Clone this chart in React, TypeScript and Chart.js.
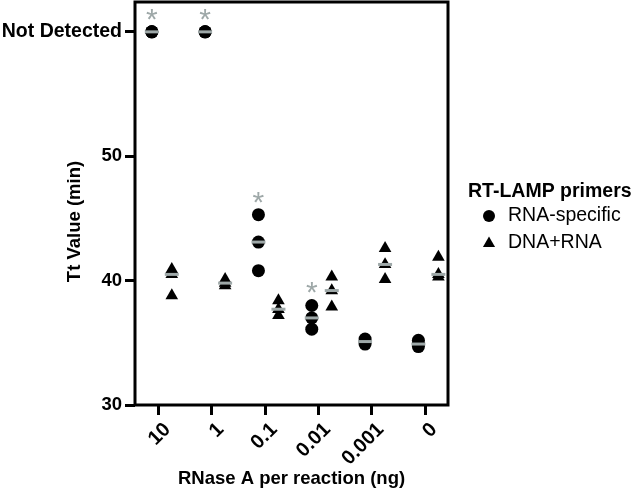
import React, { useEffect, useRef } from 'react';
import { Chart, registerables } from 'chart.js';

Chart.register(...registerables);

// ---------- data ----------
const categories = ['10', '1', '0.1', '0.01', '0.001', '0'];
const ND = 60; // "Not Detected" plotted value
const yTickValues = [30, 40, 50, 60];
const yTickLabels = ['30', '40', '50', 'Not Detected'];
const rnaSpecific = [
  [ND, ND, ND],
  [ND, ND, ND],
  [45.3, 43.1, 40.8],
  [38.0, 37.0, 36.1],
  [35.3, 35.1, 34.9],
  [35.2, 34.9, 34.7],
];
const dnaRna = [
  [40.9, 40.5, 38.8],
  [40.1, 39.8, 39.6],
  [38.4, 37.7, 37.2],
  [40.3, 39.2, 37.9],
  [42.6, 41.3, 40.1],
  [41.9, 40.5, 40.3],
];
const significant = [true, true, true, true, false, false];
const seriesNames = ['RNA-specific', 'DNA+RNA'];
const legendTitle = 'RT-LAMP primers';
const xTitle = 'RNase A per reaction (ng)';
const yTitle = 'Tt Value (min)';

// ---------- styling ----------
const RNA_OFF = -0.125;
const DNA_OFF = 0.25;
const GRAY = '#9ea8a8';
const FONT = '"Liberation Sans", Arial, Helvetica, sans-serif';

const median = (a: number[]) => {
  const s = [...a].sort((p, q) => p - q);
  const m = Math.floor(s.length / 2);
  return s.length % 2 ? s[m] : (s[m - 1] + s[m]) / 2;
};

const toPoints = (groups: number[][], off: number) =>
  groups.flatMap((g, i) => g.map((v) => ({ x: i + off, y: v })));
const toMedians = (groups: number[][], off: number) =>
  groups.map((g, i) => ({ x: i + off, y: median(g) }));

const decorPlugin = {
  id: 'decor',
  beforeDatasetsDraw(chart: any) {
    const { ctx, chartArea: ca } = chart;
    ctx.save();
    ctx.strokeStyle = '#000';
    ctx.lineWidth = 3;
    ctx.strokeRect(ca.left, ca.top, ca.right - ca.left, ca.bottom - ca.top);
    ctx.restore();
  },
  afterDraw(chart: any) {
    const { ctx, chartArea: ca, scales } = chart;
    const xs = scales.x;
    const ys = scales.y;
    ctx.save();
    // asterisks
    ctx.fillStyle = GRAY;
    ctx.font = `30px ${FONT}`;
    ctx.textAlign = 'center';
    ctx.textBaseline = 'alphabetic';
    const m = ctx.measureText('*');
    const shift = (m.actualBoundingBoxAscent - m.actualBoundingBoxDescent) / 2;
    significant.forEach((s, i) => {
      if (!s) return;
      const px = xs.getPixelForValue(i + RNA_OFF);
      const py = ys.getPixelForValue(Math.max(...rnaSpecific[i])) - 17.5;
      ctx.fillText('*', px, py + shift);
    });

    // y title
    ctx.fillStyle = '#000';
    ctx.font = `bold 18.5px ${FONT}`;
    ctx.textAlign = 'center';
    ctx.textBaseline = 'middle';
    ctx.save();
    ctx.translate(75, (ca.top + ca.bottom) / 2 + 18);
    ctx.rotate(-Math.PI / 2);
    ctx.fillText(yTitle, 0, 0);
    ctx.restore();

    // legend
    const cy = (ca.top + ca.bottom) / 2;
    const lx = ca.right + 20;
    ctx.textAlign = 'left';
    ctx.textBaseline = 'middle';
    ctx.font = `bold 19.5px ${FONT}`;
    ctx.fillText(legendTitle, lx, cy - 12);
    ctx.font = `19.5px ${FONT}`;
    const mx = ca.right + 41;
    // circle
    ctx.beginPath();
    ctx.arc(mx, cy + 12.5, 6, 0, Math.PI * 2);
    ctx.fill();
    ctx.fillText(seriesNames[0], ca.right + 60, cy + 12);
    // triangle
    const ty = cy + 40;
    const r = 7;
    ctx.beginPath();
    ctx.moveTo(mx, ty - r);
    ctx.lineTo(mx + r * Math.sin(Math.PI / 3), ty + r / 2);
    ctx.lineTo(mx - r * Math.sin(Math.PI / 3), ty + r / 2);
    ctx.closePath();
    ctx.fill();
    ctx.fillText(seriesNames[1], ca.right + 60, cy + 39);
    ctx.restore();
  },
};

export default function App() {
  const ref = useRef<HTMLCanvasElement>(null);
  useEffect(() => {
    if (!ref.current) return;
    const chart = new Chart(ref.current, {
      type: 'scatter',
      data: {
        datasets: [
          {
            label: seriesNames[0],
            data: toPoints(rnaSpecific, RNA_OFF),
            pointStyle: 'circle',
            pointRadius: 6.5,
            backgroundColor: '#000',
            borderWidth: 0,
            order: 2,
          },
          {
            label: seriesNames[1],
            data: toPoints(dnaRna, DNA_OFF),
            pointStyle: 'triangle',
            pointRadius: 7.3,
            backgroundColor: '#000',
            borderWidth: 0,
            order: 2,
          },
          {
            label: 'median-rna',
            data: toMedians(rnaSpecific, RNA_OFF),
            pointStyle: 'line',
            pointRadius: 7,
            borderColor: GRAY,
            borderWidth: 3,
            order: 1,
          },
          {
            label: 'median-dna',
            data: toMedians(dnaRna, DNA_OFF),
            pointStyle: 'line',
            pointRadius: 7,
            borderColor: GRAY,
            borderWidth: 3,
            order: 1,
          },
        ],
      },
      options: {
        responsive: false,
        animation: false,
        layout: { autoPadding: false, padding: { top: 2, right: 189, left: 0, bottom: 0 } },
        plugins: {
          legend: { display: false },
          tooltip: { enabled: false },
        },
        scales: {
          x: {
            type: 'linear',
            min: -0.44,
            max: 5.43,
            afterFit: (s: any) => {
              s.height = 90;
              s.paddingLeft = 0;
              s.paddingRight = 0;
            },
            afterBuildTicks: (s: any) => {
              s.ticks = categories.map((_, i) => ({ value: i }));
            },
            ticks: {
              callback: (v: any) => categories[Number(v)] ?? '',
              color: '#000',
              font: { family: FONT, size: 20, weight: 'bold' },
              minRotation: 45,
              maxRotation: 45,
              padding: 3,
              labelOffset: 9,
              autoSkip: false,
            },
            grid: {
              drawOnChartArea: false,
              drawTicks: true,
              tickLength: 10,
              lineWidth: 3,
              color: '#000',
            },
            border: { display: false },
            title: {
              display: true,
              text: xTitle,
              color: '#000',
              font: { family: FONT, size: 18.5, weight: 'bold' },
              padding: { top: 0, bottom: 5 },
            },
          },
          y: {
            type: 'linear',
            min: 30,
            max: 62.4,
            afterFit: (s: any) => {
              s.width = 135;
              s.paddingTop = 0;
              s.paddingBottom = 0;
            },
            afterBuildTicks: (s: any) => {
              s.ticks = yTickValues.map((v) => ({ value: v }));
            },
            ticks: {
              callback: (v: any) => yTickLabels[yTickValues.indexOf(Number(v))] ?? '',
              color: '#000',
              font: (c: any) => ({
                family: FONT,
                size: c.tick && c.tick.value === ND ? 19.5 : 18.5,
                weight: 'bold',
              }),
              padding: 3,
              autoSkip: false,
            },
            grid: {
              drawOnChartArea: false,
              drawTicks: true,
              tickLength: 10,
              lineWidth: 3,
              color: '#000',
            },
            border: { display: false },
            title: { display: false },
          },
        },
      },
      plugins: [decorPlugin],
    } as any);
    return () => chart.destroy();
  }, []);
  return (
    <div style={{ position: 'fixed', left: 0, top: 0, width: 637, height: 495, background: '#fff' }}>
      <canvas ref={ref} width={637} height={495} style={{ display: 'block' }} />
    </div>
  );
}
